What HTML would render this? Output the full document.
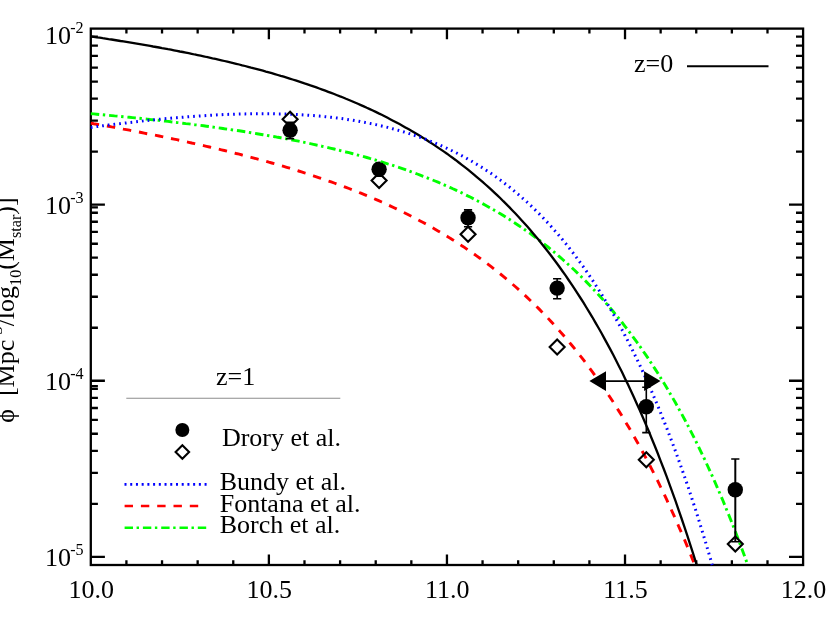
<!DOCTYPE html>
<html><head><meta charset="utf-8"><title>Mass function</title>
<style>html,body{margin:0;padding:0;background:#fff;}svg{display:block;will-change:transform;}text{font-family:"Liberation Serif",serif;fill:#000;}</style>
</head><body>
<svg width="830" height="623" viewBox="0 0 830 623">
<rect x="0" y="0" width="830" height="623" fill="#fff"/>
<g stroke="#000" stroke-width="2.3" fill="none" stroke-linecap="butt">
<rect x="90.80" y="28.60" width="712.30" height="536.40"/>
<path d="M126.41,565.00v-4.80M126.41,28.60v4.80M162.03,565.00v-4.80M162.03,28.60v4.80M197.65,565.00v-4.80M197.65,28.60v4.80M233.26,565.00v-4.80M233.26,28.60v4.80M268.88,565.00v-10.60M268.88,28.60v10.60M304.49,565.00v-4.80M304.49,28.60v4.80M340.10,565.00v-4.80M340.10,28.60v4.80M375.72,565.00v-4.80M375.72,28.60v4.80M411.34,565.00v-4.80M411.34,28.60v4.80M446.95,565.00v-10.60M446.95,28.60v10.60M482.56,565.00v-4.80M482.56,28.60v4.80M518.18,565.00v-4.80M518.18,28.60v4.80M553.80,565.00v-4.80M553.80,28.60v4.80M589.41,565.00v-4.80M589.41,28.60v4.80M625.02,565.00v-10.60M625.02,28.60v10.60M660.64,565.00v-4.80M660.64,28.60v4.80M696.25,565.00v-4.80M696.25,28.60v4.80M731.87,565.00v-4.80M731.87,28.60v4.80M767.49,565.00v-4.80M767.49,28.60v4.80M90.80,204.67h14.10M803.10,204.67h-14.10M90.80,151.67h7.10M803.10,151.67h-7.10M90.80,120.66h7.10M803.10,120.66h-7.10M90.80,98.67h7.10M803.10,98.67h-7.10M90.80,81.60h7.10M803.10,81.60h-7.10M90.80,67.66h7.10M803.10,67.66h-7.10M90.80,55.87h7.10M803.10,55.87h-7.10M90.80,45.66h7.10M803.10,45.66h-7.10M90.80,36.66h7.10M803.10,36.66h-7.10M90.80,380.74h14.10M803.10,380.74h-14.10M90.80,327.74h7.10M803.10,327.74h-7.10M90.80,296.73h7.10M803.10,296.73h-7.10M90.80,274.74h7.10M803.10,274.74h-7.10M90.80,257.67h7.10M803.10,257.67h-7.10M90.80,243.73h7.10M803.10,243.73h-7.10M90.80,231.94h7.10M803.10,231.94h-7.10M90.80,221.73h7.10M803.10,221.73h-7.10M90.80,212.73h7.10M803.10,212.73h-7.10M90.80,556.81h14.10M803.10,556.81h-14.10M90.80,503.81h7.10M803.10,503.81h-7.10M90.80,472.80h7.10M803.10,472.80h-7.10M90.80,450.81h7.10M803.10,450.81h-7.10M90.80,433.74h7.10M803.10,433.74h-7.10M90.80,419.80h7.10M803.10,419.80h-7.10M90.80,408.01h7.10M803.10,408.01h-7.10M90.80,397.80h7.10M803.10,397.80h-7.10M90.80,388.80h7.10M803.10,388.80h-7.10M90.80,207.40h7.1M90.80,386.20h7.1"/>
</g>
<text x="91.20" y="597.5" font-size="26" text-anchor="middle">10.0</text>
<text x="269.27" y="597.5" font-size="26" text-anchor="middle">10.5</text>
<text x="447.35" y="597.5" font-size="26" text-anchor="middle">11.0</text>
<text x="625.42" y="597.5" font-size="26" text-anchor="middle">11.5</text>
<text x="803.50" y="597.5" font-size="26" text-anchor="middle">12.0</text>
<text x="44.9" y="43.7" font-size="26">10<tspan dy="-11" dx="-0.7" font-size="16.12">-2</tspan></text>
<text x="44.9" y="213.8" font-size="26">10<tspan dy="-11" dx="-0.7" font-size="16.12">-3</tspan></text>
<text x="44.9" y="389.9" font-size="26">10<tspan dy="-11" dx="-0.7" font-size="16.12">-4</tspan></text>
<text x="44.9" y="566.0" font-size="26">10<tspan dy="-11" dx="-0.7" font-size="16.12">-5</tspan></text>
<text transform="translate(14,422.8) rotate(-90)" font-size="26" xml:space="preserve">ϕ  [Mpc<tspan dy="-12" font-size="16.12">-3</tspan><tspan dy="12">/log</tspan><tspan dy="6.5" font-size="16.12">10</tspan><tspan dy="-6.5">(M</tspan><tspan dy="6.5" font-size="16.12">star</tspan><tspan dy="-6.5">)]</tspan></text>
<text x="634" y="72" font-size="26">z=0</text>
<path d="M687,66.3H768.5" stroke="#000" stroke-width="2.1" fill="none"/>
<text x="216" y="385.1" font-size="26">z=1</text>
<path d="M126.3,398.2H340.3" stroke="#8c8c8c" stroke-width="1.1" fill="none"/>
<circle cx="182.35" cy="430.0" r="7"/>
<path d="M175.60,451.90L182.35,445.15L189.10,451.90L182.35,458.65Z" fill="none" stroke="#000" stroke-width="2.1"/>
<text x="221.9" y="445.6" font-size="26">Drory et al.</text>
<text x="219.7" y="489.9" font-size="26">Bundy et al.</text>
<text x="219.7" y="511.7" font-size="26">Fontana et al.</text>
<text x="219.7" y="532.9" font-size="26">Borch et al.</text>
<path d="M124.5,484.3H206.7" stroke="#0000ff" stroke-width="2.7" stroke-dasharray="2 3.72" fill="none"/>
<path d="M124.6,506H205" stroke="#ff0000" stroke-width="2.4" stroke-dasharray="8.4 7.9" fill="none"/>
<path d="M124.6,527.7H206.7" stroke="#00ff00" stroke-width="2.4" stroke-dasharray="8.4 3.6 2.4 3.9" fill="none"/>
<path d="M90.8,123.1 L93.8,123.7 L96.7,124.2 L99.7,124.7 L102.7,125.2 L105.6,125.8 L108.6,126.3 L111.6,126.9 L114.5,127.4 L117.5,128.0 L120.5,128.5 L123.4,129.1 L126.4,129.6 L129.4,130.2 L132.4,130.8 L135.3,131.3 L138.3,131.9 L141.3,132.5 L144.2,133.1 L147.2,133.7 L150.2,134.2 L153.1,134.8 L156.1,135.4 L159.1,136.0 L162.0,136.6 L165.0,137.3 L168.0,137.9 L170.9,138.5 L173.9,139.1 L176.9,139.7 L179.8,140.4 L182.8,141.0 L185.8,141.7 L188.7,142.3 L191.7,143.0 L194.7,143.6 L197.6,144.3 L200.6,145.0 L203.6,145.6 L206.5,146.3 L209.5,147.0 L212.5,147.7 L215.5,148.4 L218.4,149.1 L221.4,149.8 L224.4,150.5 L227.3,151.2 L230.3,152.0 L233.3,152.7 L236.2,153.5 L239.2,154.2 L242.2,155.0 L245.1,155.7 L248.1,156.5 L251.1,157.3 L254.0,158.1 L257.0,158.9 L260.0,159.7 L262.9,160.5 L265.9,161.3 L268.9,162.2 L271.8,163.0 L274.8,163.8 L277.8,164.7 L280.7,165.6 L283.7,166.4 L286.7,167.3 L289.7,168.2 L292.6,169.1 L295.6,170.0 L298.6,171.0 L301.5,171.9 L304.5,172.9 L307.5,173.8 L310.4,174.8 L313.4,175.8 L316.4,176.8 L319.3,177.8 L322.3,178.8 L325.3,179.8 L328.2,180.9 L331.2,181.9 L334.2,183.0 L337.1,184.1 L340.1,185.1 L343.1,186.3 L346.0,187.4 L349.0,188.5 L352.0,189.7 L354.9,190.8 L357.9,192.0 L360.9,193.2 L363.8,194.4 L366.8,195.7 L369.8,196.9 L372.8,198.2 L375.7,199.4 L378.7,200.7 L381.7,202.0 L384.6,203.4 L387.6,204.7 L390.6,206.1 L393.5,207.5 L396.5,208.9 L399.5,210.3 L402.4,211.8 L405.4,213.2 L408.4,214.7 L411.3,216.2 L414.3,217.8 L417.3,219.3 L420.2,220.9 L423.2,222.5 L426.2,224.1 L429.1,225.8 L432.1,227.5 L435.1,229.2 L438.0,230.9 L441.0,232.6 L444.0,234.4 L447.0,236.2 L449.9,238.1 L452.9,239.9 L455.9,241.8 L458.8,243.7 L461.8,245.7 L464.8,247.6 L467.7,249.7 L470.7,251.7 L473.7,253.8 L476.6,255.9 L479.6,258.0 L482.6,260.2 L485.5,262.4 L488.5,264.6 L491.5,266.9 L494.4,269.2 L497.4,271.6 L500.4,274.0 L503.3,276.4 L506.3,278.9 L509.3,281.4 L512.2,283.9 L515.2,286.5 L518.2,289.2 L521.1,291.9 L524.1,294.6 L527.1,297.4 L530.1,300.2 L533.0,303.0 L536.0,305.9 L539.0,308.9 L541.9,311.9 L544.9,315.0 L547.9,318.1 L550.8,321.3 L553.8,324.5 L556.8,327.8 L559.7,331.1 L562.7,334.5 L565.7,337.9 L568.6,341.4 L571.6,345.0 L574.6,348.6 L577.5,352.3 L580.5,356.1 L583.5,359.9 L586.4,363.8 L589.4,367.8 L592.4,371.8 L595.3,375.9 L598.3,380.1 L601.3,384.3 L604.2,388.6 L607.2,393.0 L610.2,397.5 L613.2,402.0 L616.1,406.7 L619.1,411.4 L622.1,416.2 L625.0,421.1 L628.0,426.0 L631.0,431.1 L633.9,436.2 L636.9,441.5 L639.9,446.8 L642.8,452.3 L645.8,457.8 L648.8,463.4 L651.7,469.1 L654.7,475.0 L657.7,480.9 L660.6,487.0 L663.6,493.1 L666.6,499.4 L669.5,505.8 L672.5,512.3 L675.5,518.9 L678.4,525.7 L681.4,532.5 L684.4,539.5 L687.4,546.6 L690.3,553.9 L693.3,561.3 L694.8,565.0" fill="none" stroke="#ff0000" stroke-width="2.9" stroke-dasharray="8.417 7.916"/>
<circle cx="290.10" cy="130.20" r="7.7"/>
<circle cx="379.10" cy="169.30" r="7.7"/>
<circle cx="468.05" cy="217.75" r="7.7"/>
<circle cx="557.15" cy="288.10" r="7.7"/>
<circle cx="646.30" cy="406.80" r="7.7"/>
<circle cx="735.30" cy="489.80" r="7.7"/>
<path d="M90.8,113.7 L93.8,113.9 L96.7,114.2 L99.7,114.5 L102.7,114.7 L105.6,115.0 L108.6,115.3 L111.6,115.6 L114.5,115.9 L117.5,116.1 L120.5,116.4 L123.4,116.7 L126.4,117.0 L129.4,117.3 L132.4,117.6 L135.3,117.9 L138.3,118.2 L141.3,118.5 L144.2,118.8 L147.2,119.1 L150.2,119.5 L153.1,119.8 L156.1,120.1 L159.1,120.4 L162.0,120.8 L165.0,121.1 L168.0,121.4 L170.9,121.8 L173.9,122.1 L176.9,122.5 L179.8,122.8 L182.8,123.2 L185.8,123.6 L188.7,123.9 L191.7,124.3 L194.7,124.7 L197.6,125.0 L200.6,125.4 L203.6,125.8 L206.5,126.2 L209.5,126.6 L212.5,127.0 L215.5,127.4 L218.4,127.8 L221.4,128.2 L224.4,128.7 L227.3,129.1 L230.3,129.5 L233.3,130.0 L236.2,130.4 L239.2,130.8 L242.2,131.3 L245.1,131.8 L248.1,132.2 L251.1,132.7 L254.0,133.2 L257.0,133.7 L260.0,134.2 L262.9,134.7 L265.9,135.2 L268.9,135.7 L271.8,136.2 L274.8,136.7 L277.8,137.3 L280.7,137.8 L283.7,138.4 L286.7,138.9 L289.7,139.5 L292.6,140.1 L295.6,140.6 L298.6,141.2 L301.5,141.8 L304.5,142.4 L307.5,143.0 L310.4,143.7 L313.4,144.3 L316.4,145.0 L319.3,145.6 L322.3,146.3 L325.3,146.9 L328.2,147.6 L331.2,148.3 L334.2,149.0 L337.1,149.7 L340.1,150.5 L343.1,151.2 L346.0,152.0 L349.0,152.7 L352.0,153.5 L354.9,154.3 L357.9,155.1 L360.9,155.9 L363.8,156.7 L366.8,157.5 L369.8,158.4 L372.8,159.2 L375.7,160.1 L378.7,161.0 L381.7,161.9 L384.6,162.8 L387.6,163.8 L390.6,164.7 L393.5,165.7 L396.5,166.7 L399.5,167.7 L402.4,168.7 L405.4,169.7 L408.4,170.8 L411.3,171.8 L414.3,172.9 L417.3,174.0 L420.2,175.1 L423.2,176.3 L426.2,177.4 L429.1,178.6 L432.1,179.8 L435.1,181.0 L438.0,182.2 L441.0,183.5 L444.0,184.8 L447.0,186.1 L449.9,187.4 L452.9,188.8 L455.9,190.1 L458.8,191.5 L461.8,192.9 L464.8,194.4 L467.7,195.9 L470.7,197.3 L473.7,198.9 L476.6,200.4 L479.6,202.0 L482.6,203.6 L485.5,205.2 L488.5,206.9 L491.5,208.6 L494.4,210.3 L497.4,212.0 L500.4,213.8 L503.3,215.6 L506.3,217.5 L509.3,219.3 L512.2,221.2 L515.2,223.2 L518.2,225.2 L521.1,227.2 L524.1,229.2 L527.1,231.3 L530.1,233.4 L533.0,235.6 L536.0,237.8 L539.0,240.0 L541.9,242.3 L544.9,244.6 L547.9,247.0 L550.8,249.4 L553.8,251.8 L556.8,254.3 L559.7,256.9 L562.7,259.5 L565.7,262.1 L568.6,264.8 L571.6,267.5 L574.6,270.3 L577.5,273.1 L580.5,276.0 L583.5,279.0 L586.4,281.9 L589.4,285.0 L592.4,288.1 L595.3,291.3 L598.3,294.5 L601.3,297.8 L604.2,301.1 L607.2,304.5 L610.2,308.0 L613.2,311.5 L616.1,315.1 L619.1,318.7 L622.1,322.5 L625.0,326.3 L628.0,330.1 L631.0,334.1 L633.9,338.1 L636.9,342.2 L639.9,346.3 L642.8,350.6 L645.8,354.9 L648.8,359.3 L651.7,363.8 L654.7,368.4 L657.7,373.0 L660.6,377.7 L663.6,382.6 L666.6,387.5 L669.5,392.5 L672.5,397.6 L675.5,402.8 L678.4,408.1 L681.4,413.5 L684.4,419.0 L687.4,424.6 L690.3,430.4 L693.3,436.2 L696.3,442.1 L699.2,448.2 L702.2,454.3 L705.2,460.6 L708.1,467.0 L711.1,473.5 L714.1,480.1 L717.0,486.9 L720.0,493.8 L723.0,500.8 L725.9,508.0 L728.9,515.3 L731.9,522.7 L734.8,530.2 L737.8,538.0 L740.8,545.8 L743.7,553.8 L746.7,562.0 L746.9,562.4" fill="none" stroke="#00ff00" stroke-width="2.9" stroke-dasharray="8.442 3.618 2.412 3.92"/>
<path d="M90.8,36.4 L93.8,36.8 L96.7,37.3 L99.7,37.7 L102.7,38.2 L105.6,38.6 L108.6,39.1 L111.6,39.5 L114.5,40.0 L117.5,40.5 L120.5,41.0 L123.4,41.4 L126.4,41.9 L129.4,42.4 L132.4,42.9 L135.3,43.4 L138.3,43.9 L141.3,44.4 L144.2,44.9 L147.2,45.4 L150.2,45.9 L153.1,46.5 L156.1,47.0 L159.1,47.5 L162.0,48.1 L165.0,48.6 L168.0,49.2 L170.9,49.7 L173.9,50.3 L176.9,50.9 L179.8,51.5 L182.8,52.0 L185.8,52.6 L188.7,53.2 L191.7,53.8 L194.7,54.5 L197.6,55.1 L200.6,55.7 L203.6,56.3 L206.5,57.0 L209.5,57.6 L212.5,58.3 L215.5,58.9 L218.4,59.6 L221.4,60.3 L224.4,61.0 L227.3,61.7 L230.3,62.4 L233.3,63.1 L236.2,63.8 L239.2,64.5 L242.2,65.3 L245.1,66.0 L248.1,66.8 L251.1,67.6 L254.0,68.3 L257.0,69.1 L260.0,69.9 L262.9,70.7 L265.9,71.6 L268.9,72.4 L271.8,73.2 L274.8,74.1 L277.8,75.0 L280.7,75.9 L283.7,76.7 L286.7,77.6 L289.7,78.6 L292.6,79.5 L295.6,80.4 L298.6,81.4 L301.5,82.4 L304.5,83.4 L307.5,84.3 L310.4,85.4 L313.4,86.4 L316.4,87.4 L319.3,88.5 L322.3,89.6 L325.3,90.7 L328.2,91.8 L331.2,92.9 L334.2,94.0 L337.1,95.2 L340.1,96.4 L343.1,97.5 L346.0,98.8 L349.0,100.0 L352.0,101.2 L354.9,102.5 L357.9,103.8 L360.9,105.1 L363.8,106.4 L366.8,107.8 L369.8,109.1 L372.8,110.5 L375.7,111.9 L378.7,113.4 L381.7,114.8 L384.6,116.3 L387.6,117.8 L390.6,119.4 L393.5,120.9 L396.5,122.5 L399.5,124.1 L402.4,125.7 L405.4,127.4 L408.4,129.1 L411.3,130.8 L414.3,132.5 L417.3,134.3 L420.2,136.1 L423.2,137.9 L426.2,139.8 L429.1,141.7 L432.1,143.6 L435.1,145.6 L438.0,147.6 L441.0,149.6 L444.0,151.6 L447.0,153.7 L449.9,155.9 L452.9,158.0 L455.9,160.2 L458.8,162.5 L461.8,164.8 L464.8,167.1 L467.7,169.4 L470.7,171.8 L473.7,174.3 L476.6,176.8 L479.6,179.3 L482.6,181.9 L485.5,184.5 L488.5,187.1 L491.5,189.8 L494.4,192.6 L497.4,195.4 L500.4,198.2 L503.3,201.2 L506.3,204.1 L509.3,207.1 L512.2,210.2 L515.2,213.3 L518.2,216.5 L521.1,219.7 L524.1,223.0 L527.1,226.3 L530.1,229.7 L533.0,233.2 L536.0,236.7 L539.0,240.3 L541.9,244.0 L544.9,247.7 L547.9,251.5 L550.8,255.3 L553.8,259.3 L556.8,263.3 L559.7,267.3 L562.7,271.5 L565.7,275.7 L568.6,280.0 L571.6,284.4 L574.6,288.8 L577.5,293.4 L580.5,298.0 L583.5,302.7 L586.4,307.5 L589.4,312.3 L592.4,317.3 L595.3,322.4 L598.3,327.5 L601.3,332.8 L604.2,338.1 L607.2,343.6 L610.2,349.1 L613.2,354.8 L616.1,360.5 L619.1,366.4 L622.1,372.3 L625.0,378.4 L628.0,384.6 L631.0,390.9 L633.9,397.3 L636.9,403.9 L639.9,410.5 L642.8,417.3 L645.8,424.2 L648.8,431.3 L651.7,438.5 L654.7,445.8 L657.7,453.2 L660.6,460.8 L663.6,468.5 L666.6,476.4 L669.5,484.4 L672.5,492.6 L675.5,500.9 L678.4,509.4 L681.4,518.0 L684.4,526.8 L687.4,535.8 L690.3,544.9 L693.3,554.2 L696.3,563.7 L696.6,565.0" fill="none" stroke="#000" stroke-width="2.3"/>
<path d="M90.8,127.4 L93.8,127.0 L96.7,126.6 L99.7,126.2 L102.7,125.8 L105.6,125.4 L108.6,125.0 L111.6,124.7 L114.5,124.3 L117.5,123.9 L120.5,123.6 L123.4,123.2 L126.4,122.9 L129.4,122.5 L132.4,122.2 L135.3,121.8 L138.3,121.5 L141.3,121.2 L144.2,120.8 L147.2,120.5 L150.2,120.2 L153.1,119.9 L156.1,119.6 L159.1,119.3 L162.0,119.0 L165.0,118.7 L168.0,118.5 L170.9,118.2 L173.9,117.9 L176.9,117.7 L179.8,117.4 L182.8,117.2 L185.8,116.9 L188.7,116.7 L191.7,116.5 L194.7,116.3 L197.6,116.1 L200.6,115.9 L203.6,115.7 L206.5,115.5 L209.5,115.3 L212.5,115.1 L215.5,115.0 L218.4,114.8 L221.4,114.7 L224.4,114.5 L227.3,114.4 L230.3,114.3 L233.3,114.2 L236.2,114.1 L239.2,114.0 L242.2,113.9 L245.1,113.9 L248.1,113.8 L251.1,113.8 L254.0,113.7 L257.0,113.7 L260.0,113.7 L262.9,113.7 L265.9,113.7 L268.9,113.7 L271.8,113.7 L274.8,113.8 L277.8,113.9 L280.7,113.9 L283.7,114.0 L286.7,114.1 L289.7,114.2 L292.6,114.3 L295.6,114.5 L298.6,114.6 L301.5,114.8 L304.5,115.0 L307.5,115.2 L310.4,115.4 L313.4,115.6 L316.4,115.9 L319.3,116.1 L322.3,116.4 L325.3,116.7 L328.2,117.0 L331.2,117.3 L334.2,117.7 L337.1,118.0 L340.1,118.4 L343.1,118.8 L346.0,119.2 L349.0,119.7 L352.0,120.1 L354.9,120.6 L357.9,121.1 L360.9,121.7 L363.8,122.2 L366.8,122.8 L369.8,123.4 L372.8,124.0 L375.7,124.6 L378.7,125.3 L381.7,126.0 L384.6,126.7 L387.6,127.4 L390.6,128.2 L393.5,129.0 L396.5,129.8 L399.5,130.6 L402.4,131.5 L405.4,132.4 L408.4,133.3 L411.3,134.3 L414.3,135.3 L417.3,136.3 L420.2,137.3 L423.2,138.4 L426.2,139.5 L429.1,140.7 L432.1,141.9 L435.1,143.1 L438.0,144.3 L441.0,145.6 L444.0,147.0 L447.0,148.3 L449.9,149.7 L452.9,151.2 L455.9,152.6 L458.8,154.1 L461.8,155.7 L464.8,157.3 L467.7,159.0 L470.7,160.6 L473.7,162.4 L476.6,164.2 L479.6,166.0 L482.6,167.8 L485.5,169.8 L488.5,171.7 L491.5,173.7 L494.4,175.8 L497.4,177.9 L500.4,180.1 L503.3,182.3 L506.3,184.6 L509.3,186.9 L512.2,189.3 L515.2,191.8 L518.2,194.3 L521.1,196.9 L524.1,199.5 L527.1,202.2 L530.1,204.9 L533.0,207.8 L536.0,210.7 L539.0,213.6 L541.9,216.6 L544.9,219.7 L547.9,222.9 L550.8,226.1 L553.8,229.5 L556.8,232.8 L559.7,236.3 L562.7,239.9 L565.7,243.5 L568.6,247.2 L571.6,251.0 L574.6,254.9 L577.5,258.8 L580.5,262.9 L583.5,267.0 L586.4,271.2 L589.4,275.6 L592.4,280.0 L595.3,284.5 L598.3,289.1 L601.3,293.9 L604.2,298.7 L607.2,303.6 L610.2,308.6 L613.2,313.8 L616.1,319.1 L619.1,324.4 L622.1,329.9 L625.0,335.5 L628.0,341.2 L631.0,347.1 L633.9,353.1 L636.9,359.1 L639.9,365.4 L642.8,371.7 L645.8,378.2 L648.8,384.9 L651.7,391.6 L654.7,398.6 L657.7,405.6 L660.6,412.8 L663.6,420.2 L666.6,427.7 L669.5,435.4 L672.5,443.2 L675.5,451.2 L678.4,459.4 L681.4,467.7 L684.4,476.2 L687.4,484.9 L690.3,493.7 L693.3,502.8 L696.3,512.0 L699.2,521.4 L702.2,531.1 L705.2,540.9 L708.1,550.9 L711.1,561.1 L712.2,565.0" fill="none" stroke="#0000ff" stroke-width="3.0" stroke-dasharray="1.7 4.02"/>
<path d="M290.10,122.30V138.80" stroke="#000" stroke-width="1.6" fill="none"/>
<path d="M286.00,122.30h8.2M286.00,138.80h8.2" stroke="#000" stroke-width="1.6" fill="none"/>
<path d="M379.10,163.60V176.30" stroke="#000" stroke-width="1.6" fill="none"/>
<path d="M375.00,163.60h8.2M375.00,176.30h8.2" stroke="#000" stroke-width="1.6" fill="none"/>
<path d="M468.05,209.85V226.80" stroke="#000" stroke-width="1.6" fill="none"/>
<path d="M463.95,209.85h8.2M463.95,226.80h8.2" stroke="#000" stroke-width="1.6" fill="none"/>
<path d="M557.15,278.80V298.70" stroke="#000" stroke-width="1.6" fill="none"/>
<path d="M553.05,278.80h8.2M553.05,298.70h8.2" stroke="#000" stroke-width="1.6" fill="none"/>
<path d="M646.30,387.30V432.60" stroke="#000" stroke-width="1.6" fill="none"/>
<path d="M642.20,387.30h8.2M642.20,432.60h8.2" stroke="#000" stroke-width="1.6" fill="none"/>
<path d="M735.30,459.00V541.70" stroke="#000" stroke-width="2.0" fill="none"/>
<path d="M731.20,459.00h8.2M731.20,541.70h8.2" stroke="#000" stroke-width="1.6" fill="none"/>
<path d="M282.60,119.30L290.10,111.80L297.60,119.30L290.10,126.80Z" fill="none" stroke="#000" stroke-width="2.1"/>
<path d="M371.60,180.60L379.10,173.10L386.60,180.60L379.10,188.10Z" fill="none" stroke="#000" stroke-width="2.1"/>
<path d="M460.55,234.30L468.05,226.80L475.55,234.30L468.05,241.80Z" fill="none" stroke="#000" stroke-width="2.1"/>
<path d="M549.65,347.00L557.15,339.50L564.65,347.00L557.15,354.50Z" fill="none" stroke="#000" stroke-width="2.1"/>
<path d="M638.80,459.70L646.30,452.20L653.80,459.70L646.30,467.20Z" fill="none" stroke="#000" stroke-width="2.1"/>
<path d="M727.80,543.90L735.30,536.40L742.80,543.90L735.30,551.40Z" fill="none" stroke="#000" stroke-width="2.1"/>
<path d="M600,381.1H650" stroke="#000" stroke-width="1.6" fill="none"/>
<path d="M589.4,381.1L606,371.3V390.9Z M660.5,381.1L644.1,371.3V390.9Z" fill="#000"/>
</svg></body></html>
